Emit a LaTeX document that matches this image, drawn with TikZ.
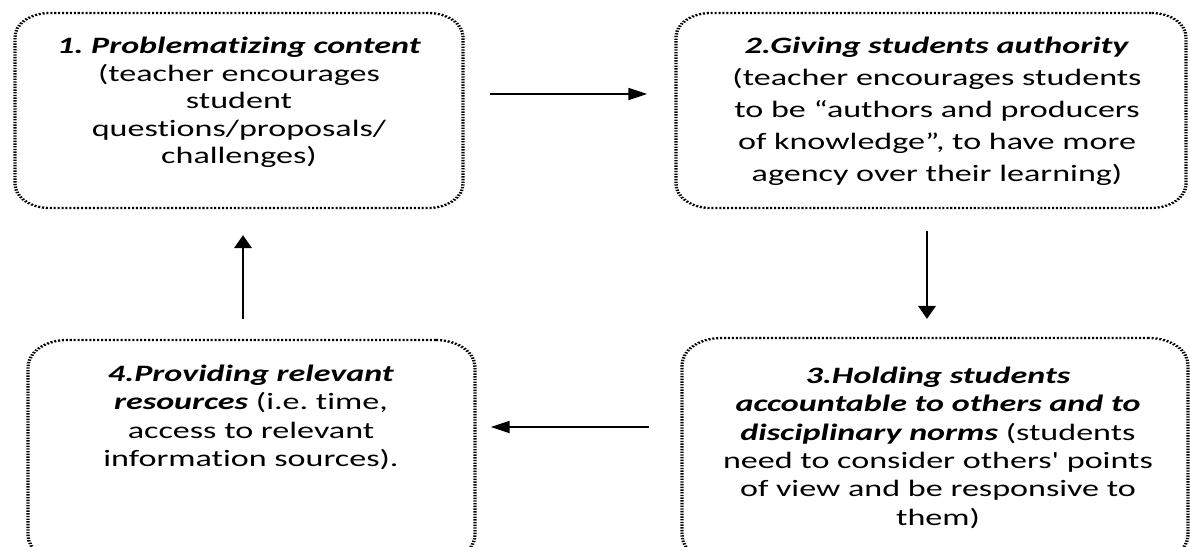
\documentclass[tikz,border=0pt]{standalone}
\usepackage{fontspec}
\setmainfont{Carlito}[Ligatures={TeX,NoCommon}]
\usetikzlibrary{arrows.meta,calc,fit}
\newcommand{\bi}[1]{\textbf{\textit{#1}}}
\frenchspacing
\begin{document}
\begin{tikzpicture}[x=1pt,y=-1pt,
  stepbox/.style={draw=black, line width=2.3pt, dash pattern=on 1.4pt off 1.3pt,
    rounded corners=24pt, inner sep=0pt},
  tallbox/.style={stepbox, rounded corners=27pt},
  txt/.style={align=center, inner sep=0pt, anchor=north, text=black},
  arr/.style={line width=1.8pt, -{Triangle[length=13pt,width=12pt]}}]
\useasboundingbox (0,0) rectangle (1190,546);
\fill[white] (0,0) rectangle (1190,546);
\clip (0,0) rectangle (1190,546);
% the whole drawing is widened horizontally on the canvas
\begin{scope}[transform canvas={xscale=1.45}, x=0.689655pt]
  % the four stages
  \node[stepbox, fit={(15,13) (463,208)}] (b1) {};
  \node[stepbox, fit={(676,13) (1186,208)}] (b2) {};
  \node[tallbox, fit={(682,338) (1188,562)}] (b3) {};
  \node[tallbox, fit={(28,340) (475,562)}] (b4) {};

  \node[txt, font={\fontsize{23.5}{27.5}\selectfont}] (t1) at (239,37)
    {\bi{1. Problematizing content}\\(teacher encourages\\student\\questions/proposals/\\challenges)};
  \node[txt, font={\fontsize{23.5}{32}\selectfont}] (t2) at (937,37)
    {\bi{2.Giving students authority}\\(teacher encourages students\\to be “authors and producers\\of knowledge”, to have more\\agency over their learning)};
  \node[txt, font={\fontsize{23.5}{28.3}\selectfont}] (t3) at (938,367)
    {\bi{3.Holding students}\\\bi{accountable to others and to}\\\bi{disciplinary norms} (students\\need to consider others\textquotesingle{} points\\of view and be responsive to\\them)};
  \node[txt, font={\fontsize{23.5}{28.3}\selectfont}] (t4) at (251,365)
    {\bi{4.Providing relevant}\\\bi{resources} (i.e. time,\\access to relevant\\information sources).};

  % the cycle between the stages
  \draw[arr] ($(b1.east)+(25,-16.5)$) -- ($(b2.west)+(-27,-16.5)$);
  \draw[arr] ($(b2.south)+(-4,22)$) -- ($(b2.south |- b3.north)+(-4,-18)$);
  \draw[arr] ($(b3.west)+(-31,-23)$) -- ($(b4.east |- b3.west)+(14,-23)$);
  \draw[arr] ($(b4.north)+(-8.5,-20)$) -- ($(b4.north |- b1.south)+(-8.5,26)$);
\end{scope}
\end{tikzpicture}
\end{document}
